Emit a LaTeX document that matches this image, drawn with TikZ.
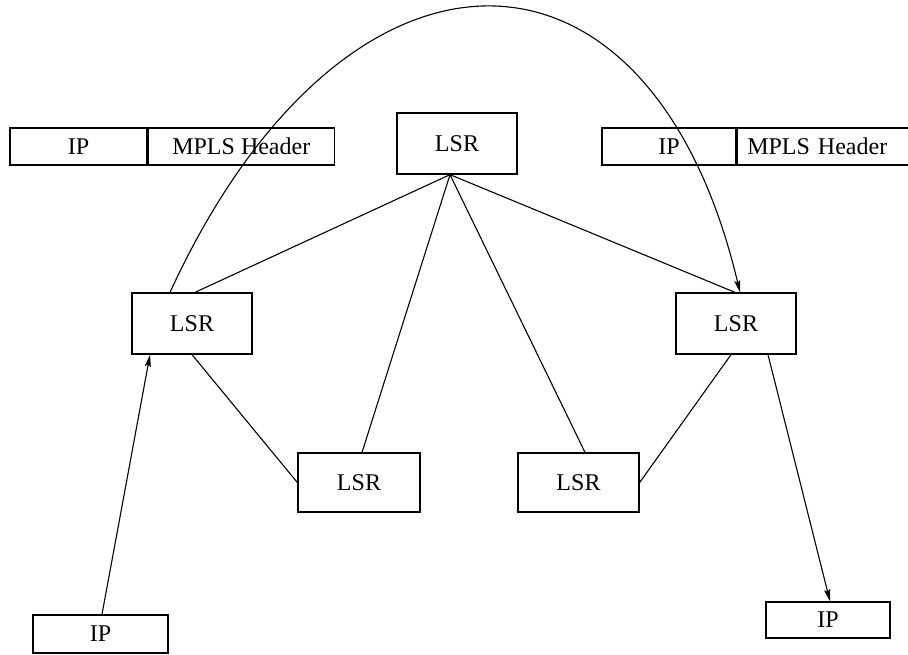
\documentclass[tikz,border=0pt]{standalone}
\usepackage{fontspec}
\setmainfont{Liberation Serif}
\usetikzlibrary{calc,arrows.meta}
\begin{document}
\begin{tikzpicture}[x=1pt,y=-1pt,
  box/.style={draw,line width=1.3pt,inner sep=0pt,font=\fontsize{24}{26}\selectfont},
  lsr/.style={box,minimum width=120pt,minimum height=61pt},
  hcell/.style={box,minimum height=37pt},
  link/.style={line width=1.1pt},
  flow/.style={line width=1.1pt,-{Stealth[length=12pt,width=6pt,inset=2pt]}}]
\useasboundingbox (0,0) rectangle (908,654);
\begin{scope}
\clip (0,0) rectangle (908,654);
% label stacks
\node[hcell,minimum width=137pt] (hLip) at (78.5,146.5) {IP};
\node[hcell,minimum width=186pt,anchor=west] (hLm) at (hLip.east) {MPLS Header};
\node[hcell,minimum width=134pt] (hRip) at (669,146.5) {IP};
\node[hcell,anchor=west,inner xsep=10pt,text width=180pt,align=left] (hRm) at (hRip.east) {MPLS Header};
\end{scope}
% routers
\node[lsr] (top) at (457,143.5) {LSR};
\node[lsr] (L) at (192,323.5) {LSR};
\node[lsr] (R) at (736,323.5) {LSR};
\node[lsr,minimum width=122pt,minimum height=59pt] (BL) at (359,482.5) {LSR};
\node[lsr,minimum width=121pt,minimum height=59pt] (BR) at (578.5,482.5) {LSR};
% end hosts
\node[box,minimum width=135pt,minimum height=38pt] (ipL) at (100.5,634) {IP};
\node[box,minimum width=124pt,minimum height=36pt] (ipR) at (828,620) {IP};
% attachment points
\coordinate (hub) at ($(top.south)+(-7,0)$);
\coordinate (arcA) at ($(L.north)+(-22,0)$);
\coordinate (arcB) at ($(R.north)+(4,0)$);
% links
\draw[link] (hub) -- ($(L.north)+(3,0)$);
\draw[link] (hub) -- ($(BL.north)+(3,0)$);
\draw[link] (hub) -- ($(BR.north)+(6.5,0)$);
\draw[link] (hub) -- ($(R.north)+(-1,0)$);
\draw[link] (L.south) -- (BL.west);
\draw[link] ($(R.south)+(-5,0)$) -- (BR.east);
% label-switched path
\draw[flow] (arcA) .. controls (345,-88) and (650,-88) .. (arcB);
% ingress and egress
\draw[flow] ($(ipL.north)+(1.5,0)$) -- ($(L.south)+(-42,0)$);
\draw[flow] ($(R.south)+(32,0)$) -- ($(ipR.north)+(2,0)$);
\end{tikzpicture}
\end{document}
